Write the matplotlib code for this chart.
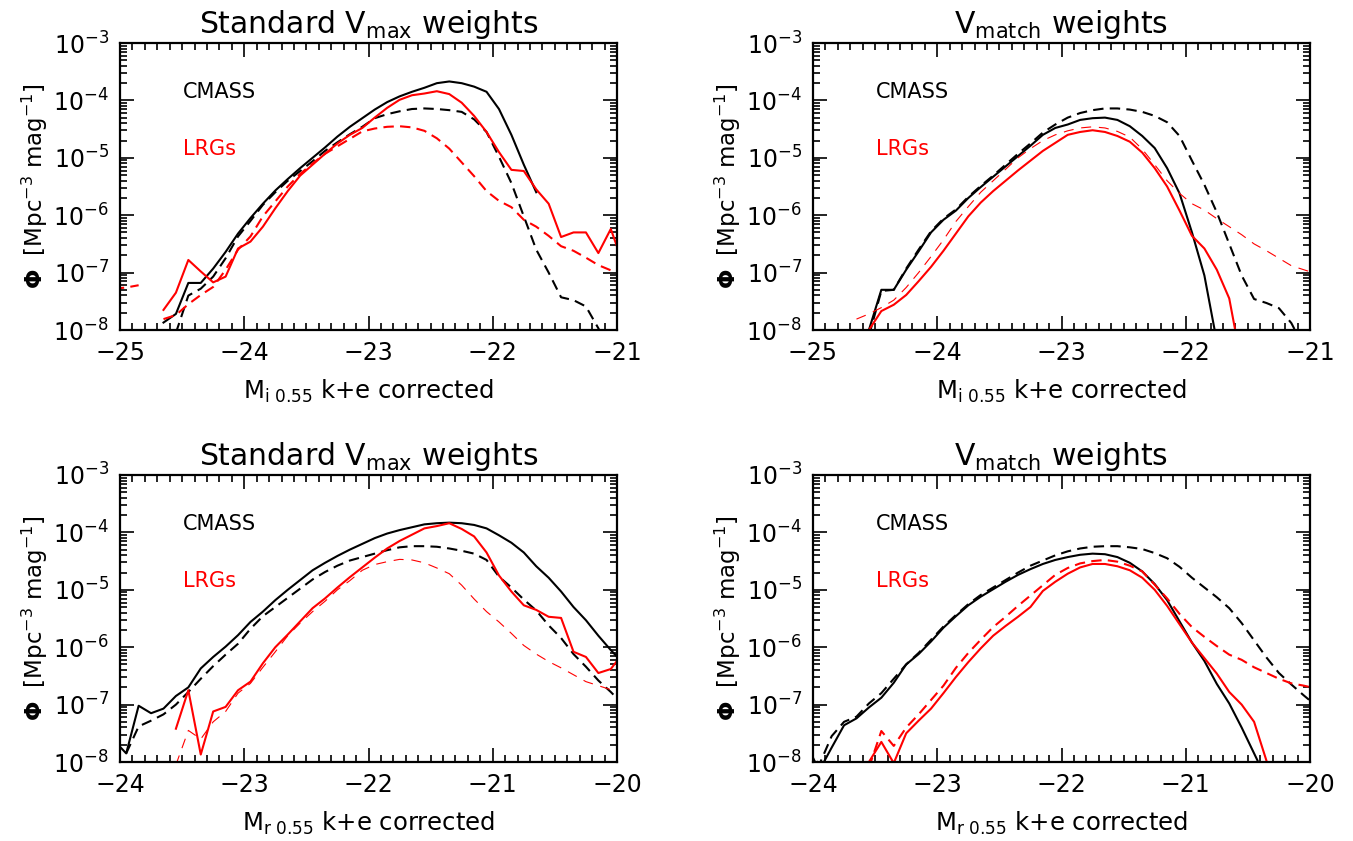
import numpy as np
import matplotlib
matplotlib.use("Agg")
import matplotlib.pyplot as plt
from matplotlib.ticker import MultipleLocator, LogLocator, LogFormatterMathtext, NullFormatter

plt.rcParams["font.family"] = "DejaVu Sans"
plt.rcParams["mathtext.fontset"] = "dejavusans"

nan = np.nan

# bin centres (absolute magnitude, 0.1 mag bins)
i_bins = [-25.05, -24.95, -24.85, -24.75, -24.65, -24.55, -24.45, -24.35, -24.25, -24.15,
          -24.05, -23.95, -23.85, -23.75, -23.65, -23.55, -23.45, -23.35, -23.25, -23.15,
          -23.05, -22.95, -22.85, -22.75, -22.65, -22.55, -22.45, -22.35, -22.25, -22.15,
          -22.05, -21.95, -21.85, -21.75, -21.65, -21.55, -21.45, -21.35, -21.25, -21.15,
          -21.05, -20.95]
r_bins = [-24.05, -23.95, -23.85, -23.75, -23.65, -23.55, -23.45, -23.35, -23.25, -23.15,
          -23.05, -22.95, -22.85, -22.75, -22.65, -22.55, -22.45, -22.35, -22.25, -22.15,
          -22.05, -21.95, -21.85, -21.75, -21.65, -21.55, -21.45, -21.35, -21.25, -21.15,
          -21.05, -20.95, -20.85, -20.75, -20.65, -20.55, -20.45, -20.35, -20.25, -20.15,
          -20.05, -19.95]

# log10 Phi [Mpc^-3 mag^-1]; solid = full sample, dashed = matched subsample
# i band, standard Vmax weights
cmass_vmax_i = [nan, nan, nan, nan, -7.87, -7.72, -7.18, -7.18, -6.93, -6.64,
                -6.32, -6.05, -5.80, -5.57, -5.37, -5.18, -5.00, -4.82, -4.63, -4.46,
                -4.31, -4.16, -4.03, -3.93, -3.85, -3.78, -3.70, -3.67, -3.70, -3.76,
                -3.85, -4.15, -4.60, -5.12, -5.60, nan, nan, nan, nan, nan,
                nan, nan]
cmass_vmax_i_sub = [nan, nan, nan, nan, nan, -8.05, -7.40, -7.28, -7.07, -6.75,
                    -6.37, -6.10, -5.82, -5.60, -5.40, -5.23, -5.06, -4.88, -4.73, -4.59,
                    -4.46, -4.31, -4.24, -4.19, -4.15, -4.14, -4.15, -4.17, -4.20, -4.33,
                    -4.55, -4.98, -5.44, -6.02, -6.60, -7.00, -7.43, -7.48, -7.59, -7.97,
                    -8.40, nan]
lrg_vmax_i = [nan, nan, nan, nan, -7.65, -7.35, -6.78, -6.98, -7.17, -7.07,
              -6.58, -6.46, -6.20, -5.88, -5.58, -5.31, -5.12, -4.93, -4.75, -4.60,
              -4.48, -4.30, -4.13, -3.99, -3.91, -3.88, -3.84, -3.89, -4.04, -4.27,
              -4.55, -4.90, -5.21, -5.23, -5.55, -5.80, -6.38, -6.30, -6.30, -6.66,
              -6.24, -6.85]
lrg_vmax_i_sub = [-7.28, -7.26, -7.22, nan, -7.81, -7.74, -7.55, -7.39, -7.25, -6.95,
                  -6.60, -6.37, -6.02, -5.76, -5.50, -5.28, -5.10, -4.93, -4.80, -4.67,
                  -4.54, -4.49, -4.46, -4.45, -4.47, -4.53, -4.66, -4.84, -5.08, -5.32,
                  -5.58, -5.75, -5.86, -6.08, -6.20, -6.36, -6.54, -6.62, -6.74, -6.87,
                  -6.96, -7.05]

# i band, Vmatch weights
cmass_vm_i = [nan, nan, nan, nan, nan, -8.00, -7.30, -7.30, -6.95, -6.63,
              -6.30, -6.08, -5.92, -5.70, -5.51, -5.33, -5.15, -4.97, -4.79, -4.60,
              -4.48, -4.42, -4.34, -4.31, -4.30, -4.34, -4.45, -4.62, -4.83, -5.18,
              -5.62, -6.30, -7.05, -8.20, nan, nan, nan, nan, nan, nan,
              nan, nan]
cmass_vm_i_sub = [nan, nan, nan, nan, nan, -8.10, -7.32, -7.30, -6.93, -6.60,
                  -6.28, -6.06, -5.90, -5.68, -5.49, -5.31, -5.12, -4.93, -4.75, -4.56,
                  -4.42, -4.30, -4.22, -4.17, -4.14, -4.14, -4.16, -4.20, -4.27, -4.38,
                  -4.62, -5.05, -5.47, -5.95, -6.50, -7.05, -7.46, -7.53, -7.62, -7.88,
                  -8.30, nan]
lrg_vm_i = [nan, nan, nan, nan, nan, -8.00, -7.67, -7.56, -7.39, -7.15,
            -6.90, -6.62, -6.32, -6.02, -5.78, -5.58, -5.40, -5.22, -5.05, -4.88,
            -4.74, -4.60, -4.55, -4.52, -4.55, -4.62, -4.72, -4.91, -5.18, -5.50,
            -5.92, -6.36, -6.58, -6.95, -7.45, -8.60, nan, nan, nan, nan,
            nan, nan]
lrg_vm_i_sub = [nan, nan, nan, nan, -7.81, -7.72, -7.61, -7.48, -7.26, -7.00,
                -6.72, -6.43, -6.11, -5.85, -5.60, -5.40, -5.20, -5.00, -4.84, -4.70,
                -4.60, -4.53, -4.48, -4.46, -4.48, -4.54, -4.64, -4.85, -5.12, -5.40,
                -5.62, -5.80, -5.91, -6.06, -6.20, -6.34, -6.50, -6.62, -6.75, -6.88,
                -6.95, -7.02]

# r band, standard Vmax weights
cmass_vmax_r = [-7.62, -7.85, -7.02, -7.15, -7.07, -6.85, -6.70, -6.37, -6.17, -5.99,
                -5.79, -5.56, -5.38, -5.18, -5.00, -4.83, -4.66, -4.53, -4.41, -4.30,
                -4.20, -4.10, -4.02, -3.96, -3.91, -3.86, -3.84, -3.83, -3.84, -3.87,
                -3.93, -4.05, -4.18, -4.35, -4.59, -4.79, -5.03, -5.30, -5.53, -5.80,
                -6.05, -6.28]
cmass_vmax_r_sub = [nan, -7.85, -7.38, -7.28, -7.17, -7.00, -6.78, -6.55, -6.33, -6.13,
                    -5.94, -5.68, -5.46, -5.30, -5.14, -4.98, -4.82, -4.69, -4.58, -4.49,
                    -4.43, -4.37, -4.31, -4.26, -4.24, -4.24, -4.25, -4.28, -4.32, -4.37,
                    -4.48, -4.77, -4.96, -5.17, -5.36, -5.62, -5.84, -6.12, -6.34, -6.58,
                    -6.78, -7.00]
lrg_vmax_r = [nan, nan, nan, nan, nan, -7.42, -6.75, -7.87, -7.12, -7.04,
              -6.75, -6.60, -6.28, -6.00, -5.78, -5.55, -5.32, -5.15, -4.96, -4.78,
              -4.61, -4.44, -4.28, -4.15, -4.04, -3.93, -3.89, -3.84, -3.94, -4.07,
              -4.35, -4.75, -5.03, -5.27, -5.35, -5.47, -5.49, -6.08, -6.17, -6.45,
              -6.38, -6.10]
lrg_vmax_r_sub = [nan, nan, nan, nan, nan, -8.05, -7.45, -7.60, -7.30, -7.12,
                  -6.80, -6.63, -6.35, -6.08, -5.80, -5.58, -5.38, -5.20, -5.00, -4.84,
                  -4.66, -4.56, -4.51, -4.47, -4.48, -4.53, -4.62, -4.72, -4.92, -5.16,
                  -5.38, -5.56, -5.76, -5.97, -6.12, -6.25, -6.36, -6.48, -6.60, -6.67,
                  -6.74, -6.85]

# r band, Vmatch weights
cmass_vm_r = [-7.70, -8.15, -7.75, -7.36, -7.24, -7.05, -6.88, -6.62, -6.30, -6.12,
              -5.90, -5.66, -5.46, -5.27, -5.12, -4.99, -4.86, -4.74, -4.64, -4.55,
              -4.48, -4.43, -4.39, -4.37, -4.38, -4.43, -4.53, -4.68, -4.90, -5.18,
              -5.55, -5.92, -6.24, -6.64, -6.98, -7.40, -7.85, -8.30, nan, nan,
              nan, nan]
cmass_vm_r_sub = [-7.75, -8.05, -7.55, -7.30, -7.21, -6.98, -6.80, -6.55, -6.30, -6.10,
                  -5.87, -5.64, -5.44, -5.25, -5.09, -4.96, -4.83, -4.70, -4.58, -4.49,
                  -4.40, -4.33, -4.28, -4.25, -4.24, -4.24, -4.26, -4.29, -4.36, -4.45,
                  -4.60, -4.79, -4.96, -5.13, -5.32, -5.58, -5.88, -6.18, -6.45, -6.65,
                  -6.84, -7.02]
lrg_vm_r = [nan, nan, nan, nan, nan, -8.00, -7.65, -8.02, -7.50, -7.28,
            -7.07, -6.80, -6.52, -6.26, -6.02, -5.80, -5.63, -5.47, -5.30, -5.02,
            -4.86, -4.72, -4.61, -4.55, -4.55, -4.59, -4.66, -4.79, -5.00, -5.28,
            -5.60, -5.92, -6.19, -6.46, -6.78, -7.00, -7.30, -7.98, -8.60, nan,
            nan, nan]
lrg_vm_r_sub = [nan, nan, nan, nan, nan, -8.10, -7.46, -7.72, -7.40, -7.17,
                -6.92, -6.67, -6.36, -6.10, -5.87, -5.65, -5.47, -5.28, -5.10, -4.92,
                -4.74, -4.62, -4.54, -4.50, -4.48, -4.51, -4.58, -4.68, -4.91, -5.15,
                -5.42, -5.65, -5.82, -5.98, -6.13, -6.22, -6.35, -6.45, -6.55, -6.63,
                -6.67, -6.72]

panels = [
    # (bins, xlim, title, xlabel, cmass, cmass_sub, lrg, lrg_sub, thin red dashes)
    (i_bins, (-25, -21), r"Standard V$_{\rm max}$ weights", r"M$_{\rm i\ 0.55}$ k+e corrected",
     cmass_vmax_i, cmass_vmax_i_sub, lrg_vmax_i, lrg_vmax_i_sub, False),
    (i_bins, (-25, -21), r"V$_{\rm match}$ weights", r"M$_{\rm i\ 0.55}$ k+e corrected",
     cmass_vm_i, cmass_vm_i_sub, lrg_vm_i, lrg_vm_i_sub, True),
    (r_bins, (-24, -20), r"Standard V$_{\rm max}$ weights", r"M$_{\rm r\ 0.55}$ k+e corrected",
     cmass_vmax_r, cmass_vmax_r_sub, lrg_vmax_r, lrg_vmax_r_sub, True),
    (r_bins, (-24, -20), r"V$_{\rm match}$ weights", r"M$_{\rm r\ 0.55}$ k+e corrected",
     cmass_vm_r, cmass_vm_r_sub, lrg_vm_r, lrg_vm_r_sub, False),
]

W, H = 1353, 841
fig = plt.figure(figsize=(W / 100, H / 100), dpi=100)

lefts = [120, 813, 120, 813]
tops = [43, 43, 475, 475]
aw, ah = 497, 287

for k, (bins, xlim, title, xlabel, cm, cm_sub, lrg, lrg_sub, thin) in enumerate(panels):
    ax = fig.add_axes([lefts[k] / W, (H - tops[k] - ah) / H, aw / W, ah / H])
    x = np.array(bins)

    ax.plot(x, 10 ** np.array(cm), color="black", lw=1.5)
    ax.plot(x, 10 ** np.array(cm_sub), color="black", lw=1.5, dashes=(5, 3))
    ax.plot(x, 10 ** np.array(lrg), color="red", lw=1.5)
    if thin:
        ax.plot(x, 10 ** np.array(lrg_sub), color="red", lw=0.8, dashes=(9, 7))
    else:
        ax.plot(x, 10 ** np.array(lrg_sub), color="red", lw=1.5, dashes=(5, 3))

    ax.set_yscale("log")
    ax.set_xlim(*xlim)
    ax.set_ylim(1e-8, 1e-3)

    ax.xaxis.set_major_locator(MultipleLocator(1))
    ax.xaxis.set_minor_locator(MultipleLocator(0.1))
    ax.yaxis.set_major_locator(LogLocator(base=10, numticks=10))
    ax.yaxis.set_minor_locator(LogLocator(base=10, subs=np.arange(2, 10), numticks=20))
    ax.yaxis.set_major_formatter(LogFormatterMathtext())
    ax.yaxis.set_minor_formatter(NullFormatter())

    ax.tick_params(which="both", direction="in", top=True, right=True, width=1.2)
    ax.tick_params(which="major", length=10, labelsize=17, pad=8)
    ax.tick_params(which="minor", length=5)
    for sp in ax.spines.values():
        sp.set_linewidth(1.6)

    ax.set_title(title, fontsize=21.5, pad=7)
    ax.set_xlabel(xlabel, fontsize=17.5, labelpad=9)
    ax.set_ylabel(r"$\mathbf{\Phi}$  [Mpc$^{-3}$ mag$^{-1}$]", fontsize=16.5, labelpad=2)

    ax.text(0.127, 0.83, "CMASS", transform=ax.transAxes, fontsize=15,
            color="black", va="center", ha="left")
    ax.text(0.127, 0.63, "LRGs", transform=ax.transAxes, fontsize=15,
            color="red", va="center", ha="left")

fig.savefig("out.png", dpi=100)
